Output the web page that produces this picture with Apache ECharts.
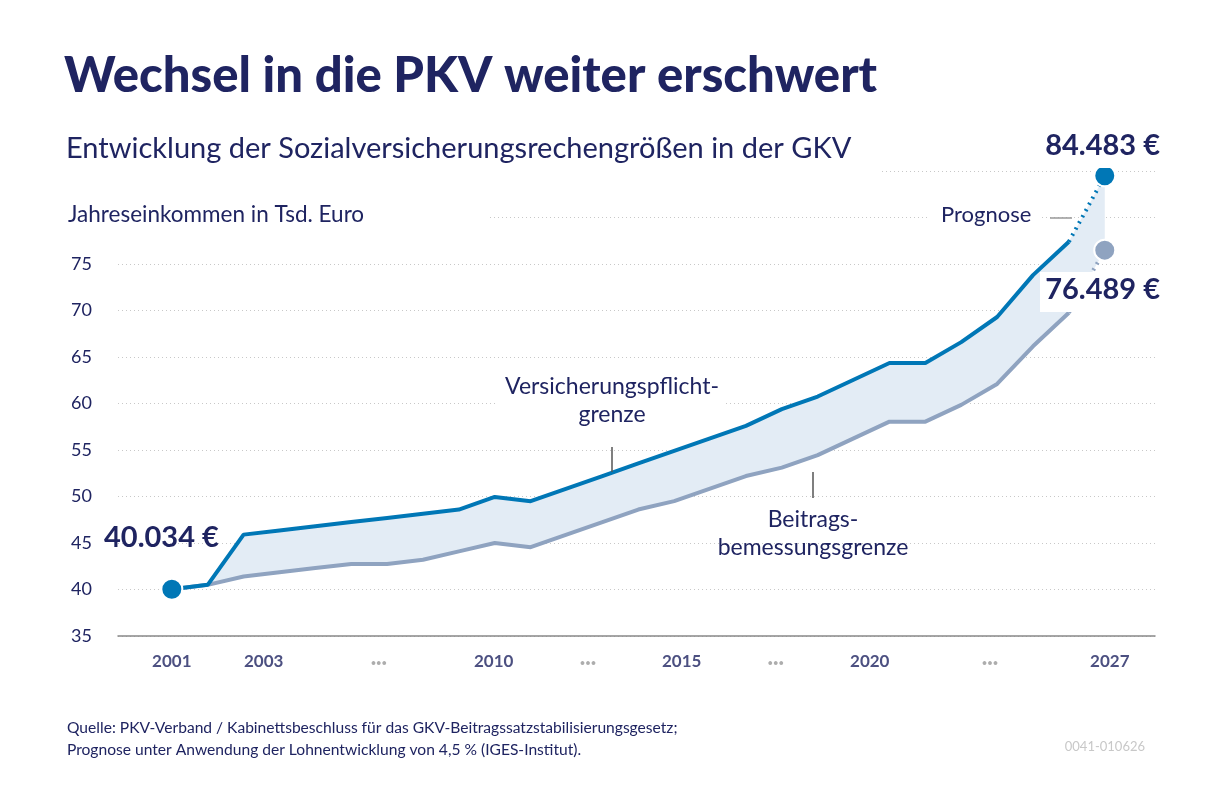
<!DOCTYPE html>
<html><head><meta charset="utf-8">
<script src="https://cdn.jsdelivr.net/npm/echarts@6/dist/echarts.min.js"></script>
<style>html,body{margin:0;background:#fff}#c{width:1207px;height:805px}</style></head>
<body><div id="c"></div>
<script>
const years=[2001,2002,2003,2004,2005,2006,2007,2008,2009,2010,2011,2012,2013,2014,2015,2016,2017,2018,2019,2020,2021,2022,2023,2024,2025,2026,2027];
const vpg=[40.034,40.5,45.9,46.35,46.8,47.25,47.7,48.15,48.6,49.95,49.5,50.85,52.2,53.55,54.9,56.25,57.6,59.4,60.75,62.55,64.35,64.35,66.6,69.3,73.8,77.4,84.483];
const bbg=[40.034,40.5,41.4,41.85,42.3,42.75,42.75,43.2,44.1,45.0,44.55,45.9,47.25,48.6,49.5,50.85,52.2,53.1,54.45,56.25,58.05,58.05,59.85,62.1,66.15,69.75,76.489];
const tickLabels=['2001','2003','•••','2010','•••','2015','•••','2020','•••','2027'];
const tickPos=[2001,2003.56,2006.77,2009.97,2012.6,2015.21,2017.83,2020.45,2023.8,2027.14];
const N=years.length;
const pair=(a,i0,i1)=>years.slice(i0,i1).map((y,k)=>[y,a[i0+k]]);
const C='#1f2461',BLUE='#0077b6',GRAY='#8fa3c0';
const F='Lato';
const chart=echarts.init(document.getElementById('c'));
chart.setOption({
 animation:false,
 textStyle:{fontFamily:F},
 grid:{left:118,width:1037,top:171,height:465},
 xAxis:{type:'value',min:1999.5,max:2028.4,axisLine:{show:true,lineStyle:{color:'#888',width:1.5}},axisTick:{show:false},axisLabel:{show:false},splitLine:{show:false}},
 yAxis:{type:'value',min:35,max:85,interval:5,axisLine:{show:false},axisTick:{show:false},
  axisLabel:{color:C,fontSize:18,margin:26,formatter:v=>v>75?'':v},
  splitLine:{lineStyle:{color:'#c8c8c8',type:[1,3]}}},
 series:[
  {type:'custom',data:[0],z:1,silent:true,renderItem:(params,api)=>{
    const top=years.map((y,i)=>api.coord([y,vpg[i]]));
    const bot=years.map((y,i)=>api.coord([y,bbg[i]])).reverse();
    return {type:'polygon',shape:{points:top.concat(bot)},style:{fill:'#e3ecf5'}};
  }},
  {type:'line',data:pair(bbg,0,N-1),symbol:'none',lineStyle:{color:GRAY,width:4},z:3},
  {type:'line',data:pair(vpg,0,N-1),symbol:'none',lineStyle:{color:BLUE,width:4},z:4},
  {type:'line',data:pair(bbg,N-2,N),symbol:'none',lineStyle:{color:GRAY,width:4,type:[2,5]},z:3},
  {type:'line',data:pair(vpg,N-2,N),symbol:'none',lineStyle:{color:BLUE,width:4,type:[2,5]},z:4},
  {type:'scatter',data:[[2001,vpg[0]],[2027,vpg[N-1]]],symbolSize:21,itemStyle:{color:BLUE,opacity:1,borderColor:'#fff',borderWidth:2},z:6},
  {type:'scatter',data:[[2027,bbg[N-1]]],symbolSize:21,itemStyle:{color:GRAY,opacity:1,borderColor:'#fff',borderWidth:2},z:6},
  {type:'scatter',data:tickPos.map((p,i)=>({value:[p,35],name:tickLabels[i]})),symbolSize:0,silent:true,
   label:{show:true,position:'bottom',distance:17,fontSize:17,fontWeight:'bold',color:C,
    formatter:p=>p.name[0]==='•'?'{d|···}':p.name,rich:{d:{fontSize:20,fontWeight:'bold',color:'#999'}}},z:5}
 ],
 graphic:[
  {type:'text',left:64,top:52,style:{text:'Wechsel in die PKV weiter erschwert',font:'900 49px '+F,fill:C}},
  {type:'rect',shape:{x:60,y:130,width:820,height:45},style:{fill:'#fff'},z:10},
  {type:'text',left:66,top:134,z:11,style:{text:'Entwicklung der Sozialversicherungsrechengrößen in der GKV',font:'29px '+F,fill:C}},
  {type:'rect',shape:{x:60,y:200,width:430,height:32},style:{fill:'#fff'},z:10},
  {type:'text',left:68,top:203,z:11,style:{text:'Jahreseinkommen in Tsd. Euro',font:'22.5px '+F,fill:C}},
  {type:'rect',shape:{x:930,y:200,width:110,height:34},style:{fill:'#fff'},z:10},
  {type:'text',left:941,top:204,z:11,style:{text:'Prognose',font:'22px '+F,fill:C}},
  {type:'line',shape:{x1:1050,y1:218,x2:1072,y2:218},style:{stroke:'#999',lineWidth:1.5},z:11},
  {type:'rect',shape:{x:1030,y:128,width:135,height:40},style:{fill:'#fff'},z:10},
  {type:'text',right:47,top:131,z:11,style:{text:'84.483 €',font:'bold 29px '+F,fill:C}},
  {type:'rect',shape:{x:1040,y:272,width:125,height:40},style:{fill:'#fff'},z:10},
  {type:'text',right:47,top:275,z:11,style:{text:'76.489 €',font:'bold 29px '+F,fill:C}},
  {type:'text',left:104,top:523,z:11,style:{text:'40.034 €',font:'bold 29px '+F,fill:C}},
  {type:'rect',shape:{x:498,y:372,width:226,height:56},style:{fill:'#fff'},z:10},
  {type:'text',x:612,y:373,z:11,style:{text:'Versicherungspflicht-\ngrenze',font:'23px '+F,fill:C,align:'center',lineHeight:28}},
  {type:'line',shape:{x1:612,y1:447,x2:612,y2:472},style:{stroke:'#555',lineWidth:1.5},z:11},
  {type:'text',x:813,y:506,z:11,style:{text:'Beitrags-\nbemessungsgrenze',font:'23px '+F,fill:C,align:'center',lineHeight:28}},
  {type:'line',shape:{x1:813,y1:472,x2:813,y2:498},style:{stroke:'#555',lineWidth:1.5},z:11},
  {type:'text',left:67,top:717,style:{text:'Quelle: PKV-Verband / Kabinettsbeschluss für das GKV-Beitragssatzstabilisierungsgesetz;\nPrognose unter Anwendung der Lohnentwicklung von 4,5 % (IGES-Institut).',font:'15.6px '+F,fill:C,lineHeight:22}},
  {type:'text',right:62,top:740,style:{text:'0041-010626',font:'13px '+F,fill:'#c8c8c8'}}
 ]
});
</script></body></html>
